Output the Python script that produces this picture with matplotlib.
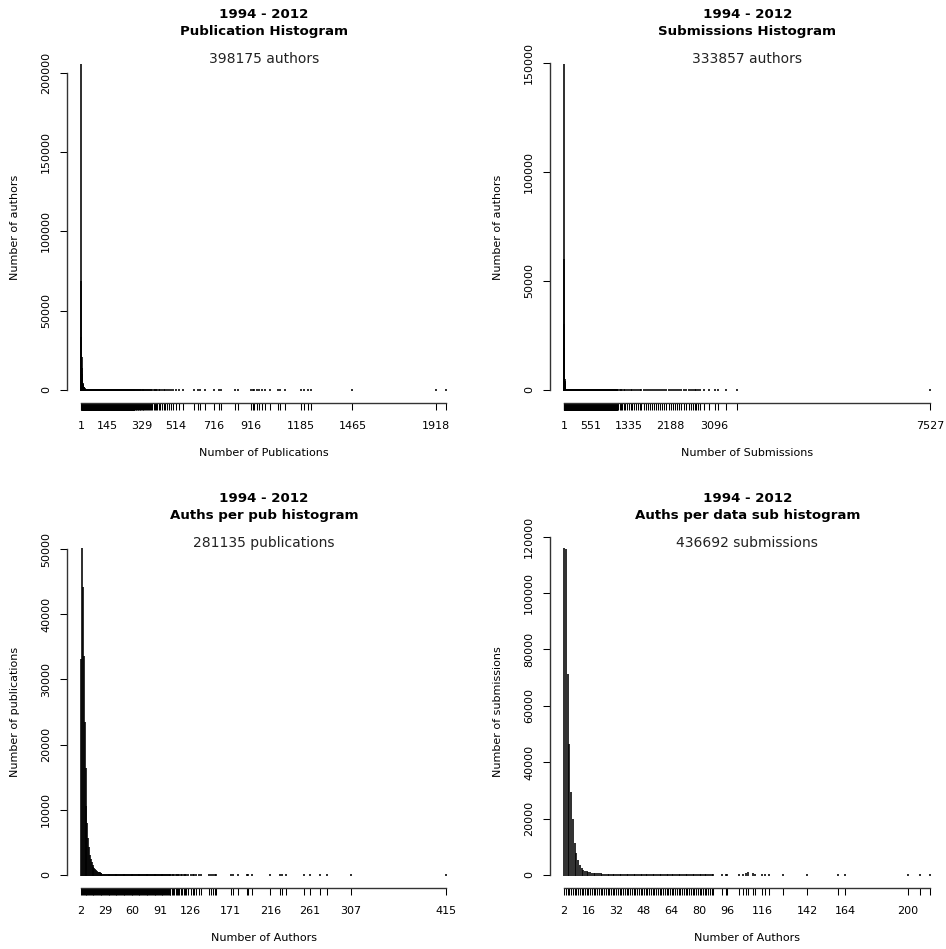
"""
Histogrammes 1994-2012 : publications / soumissions par auteur, auteurs par pub / soumission.
Style proche d'un plot(table(x)) de R.
"""

import matplotlib
matplotlib.use("Agg")
import matplotlib.pyplot as plt
from matplotlib.transforms import offset_copy

# --- Publications par auteur ---
pub_head = [205000, 68000, 33000, 20000, 13500, 9500, 7000, 5300, 4200, 3400,
            2800, 2300, 1950, 1650, 1400, 1200, 1050, 920, 800, 700]          # valeurs 1..20
pub_dense_last = 290
pub_mid = [295, 299, 303, 306, 310, 313, 317, 321, 325, 329, 333, 337, 341, 346,
           350, 355, 361, 366, 372, 379, 385, 392, 398, 406, 413, 421, 429, 437,
           446, 455, 466, 477, 488, 497]
pub_sparse = [514, 528, 553, 611, 631, 640, 670, 716, 746, 755, 832, 847, 916, 926,
              935, 950, 959, 977, 994, 1022, 1066, 1075, 1099, 1185, 1201, 1223,
              1241, 1465, 1918, 1972]
pub_tail_count = 40
pub_labels = [1, 145, 329, 514, 716, 916, 1185, 1465, 1918]

# --- Soumissions par auteur ---
sub_head = [149000, 59500, 30000, 19000, 13000, 9500, 7200, 5600, 4600, 3800,
            3200, 2700, 2300, 2000, 1800, 1600, 1400, 1250, 1100, 1000]       # valeurs 1..20
sub_dense_last = 1094
sub_mid = [1110, 1140, 1172, 1200, 1236, 1260, 1290, 1335, 1370, 1400, 1440, 1475,
           1520, 1560, 1590, 1640, 1690, 1720, 1760, 1800, 1850, 1890, 1930, 1980,
           2020, 2060, 2100, 2150, 2188, 2230, 2270, 2320, 2360, 2400, 2460, 2510,
           2560, 2600, 2640, 2690, 2720, 2760, 2790]
sub_sparse = [2873, 2976, 3096, 3162, 3320, 3561, 7527]
sub_tail_count = 30
sub_labels = [1, 551, 1335, 2188, 3096, 7527]

# --- Auteurs par publication ---
app_head = [33000, 50000, 44000, 33500, 23300, 16300, 10500, 7800, 5600, 4100,
            3000, 2300, 1800, 1400, 1100, 900, 720, 580, 480, 400, 340, 290,
            250, 215]                                                          # valeurs 2..25
app_dense_last = 100
app_mid = [101, 102, 103, 105, 106, 107, 109, 110, 112, 113, 115, 116, 118, 120,
           121, 123, 126, 128, 130, 132, 135, 138]
app_sparse = [147, 149, 151, 153, 155, 171, 174, 179, 190, 191, 195, 216, 227, 229,
              234, 254, 261, 272, 280, 307, 415]
app_tail_count = 60
app_labels = [2, 29, 60, 91, 126, 171, 216, 261, 307, 415]

# --- Auteurs par soumission de données ---
aps_head = [115600, 115300, 71000, 46200, 29300, 19500, 11000, 7500, 5200, 3300,
            2300, 1600, 1200, 950, 800, 650]                                   # valeurs 2..17
aps_body = [420, 360, 320, 290, 260, 240, 220, 210, 200, 190, 180, 170, 165,   # 18..30
            160, 155, 150, 150, 145, 140, 140, 135, 130, 130, 125, 125, 120,   # 31..43
            120, 115, 115, 110, 110, 105, 105, 100, 100, 100, 95, 95, 90,      # 44..56
            90, 90, 85, 85, 85, 80, 80, 80, 75, 75, 75, 70, 70,                # 57..69
            70, 65, 65, 65, 60, 60, 60, 55, 55, 55, 50, 50, 45,                # 70..82
            45, 40, 40, 35, 30, 25]                                            # 83..88
aps_sparse = [93, 95, 96, 103, 105, 107, 108, 111, 112, 116, 118, 120, 128, 142,
              160, 164, 200, 207, 213]
aps_sparse_counts = [30, 20, 45, 60, 150, 450, 600, 300, 200, 100, 75, 40, 5, 3,
                     2, 2, 1, 1, 1]
aps_labels = [2, 16, 32, 48, 64, 80, 96, 116, 142, 164, 200]

FIG_W, FIG_H, DPI = 946, 949, 100
BAR_LW = 1.15  # points


def draw_panel(fig, rect_px, values, counts, labels, yticks,
               title, subtitle, xlabel, ylabel):
    left, top, right, bottom = rect_px
    ax = fig.add_axes([left / FIG_W, 1 - bottom / FIG_H,
                       (right - left) / FIG_W, (bottom - top) / FIG_H])

    xmin, xmax = min(values), max(values)
    xr = xmax - xmin
    ymax = max(counts)
    ax.set_xlim(xmin - 0.04 * xr, xmax + 0.04 * xr)
    ax.set_ylim(-0.04 * ymax, 1.04 * ymax)

    # R trace les barres avec des bouts ronds : même un effectif de 1 laisse un point.
    # On prolonge chaque trait d'une demi-épaisseur de chaque côté.
    half = (BAR_LW * DPI / 72 / 2) * (1.08 * ymax) / (bottom - top)
    ax.vlines(values, -half, [c + half for c in counts], colors="black",
              linewidth=BAR_LW, capstyle="butt")

    for side in ("top", "right"):
        ax.spines[side].set_visible(False)
    ax.spines["left"].set_bounds(0, yticks[-1])
    ax.spines["bottom"].set_bounds(xmin, xmax)
    for side in ("left", "bottom"):
        ax.spines[side].set_linewidth(1.0)
        ax.spines[side].set_color("#333333")
        ax.spines[side].set_zorder(5)

    ax.set_xticks(values, minor=True)
    ax.set_xticks(labels, [str(v) for v in labels])
    ax.set_yticks(yticks, [str(t) for t in yticks])
    ax.tick_params(axis="x", which="both", direction="out", length=5.3, width=0.75,
                   labelsize=8, pad=8)
    ax.tick_params(axis="y", direction="out", length=5, width=0.75,
                   labelsize=8, pad=6, labelrotation=90)
    for lab in ax.get_yticklabels():
        lab.set_va("center")

    def at(dx, dy):
        return offset_copy(ax.transAxes, fig=fig, x=dx, y=dy, units="dots")

    t1, t2 = title.split("\n")
    ax.text(0.5, 1, t1, transform=at(0, 37.7), ha="center", va="center",
            fontsize=9.6, fontweight="bold")
    ax.text(0.5, 1, t2, transform=at(0, 20.3), ha="center", va="center",
            fontsize=9.6, fontweight="bold")
    ax.text(0.5, 1, subtitle, transform=at(0, -7.3), ha="center", va="center",
            fontsize=10, color="#222222")
    ax.text(0.5, 0, xlabel, transform=at(0, -50.3), ha="center", va="center",
            fontsize=8)
    ax.text(0, 0.5, ylabel, transform=at(-51.5, 0), ha="center", va="center",
            fontsize=8, rotation=90)
    return ax


fig = plt.figure(figsize=(FIG_W / DPI, FIG_H / DPI), dpi=DPI)

# 1. publications par auteur
pub_values = list(range(1, pub_dense_last + 1)) + pub_mid + pub_sparse
pub_counts = pub_head + [pub_tail_count] * (len(pub_values) - len(pub_head))
draw_panel(fig, (66.5, 52, 461, 403), pub_values, pub_counts, pub_labels,
           [0, 50000, 100000, 150000, 200000],
           "1994 - 2012\nPublication Histogram", "398175 authors",
           "Number of Publications", "Number of authors")

# 2. soumissions par auteur
sub_values = list(range(1, sub_dense_last + 1)) + sub_mid + sub_sparse
sub_counts = sub_head + [sub_tail_count] * (len(sub_values) - len(sub_head))
draw_panel(fig, (549.5, 52, 945, 403), sub_values, sub_counts, sub_labels,
           [0, 50000, 100000, 150000],
           "1994 - 2012\nSubmissions Histogram", "333857 authors",
           "Number of Submissions", "Number of authors")

# 3. auteurs par publication
app_values = list(range(2, app_dense_last + 1)) + app_mid + app_sparse
app_counts = app_head + [app_tail_count] * (len(app_values) - len(app_head))
draw_panel(fig, (66.5, 536, 461, 888), app_values, app_counts, app_labels,
           [0, 10000, 20000, 30000, 40000, 50000],
           "1994 - 2012\nAuths per pub histogram", "281135 publications",
           "Number of Authors", "Number of publications")

# 4. auteurs par soumission
aps_values = list(range(2, 89)) + aps_sparse
aps_counts = aps_head + aps_body + aps_sparse_counts
draw_panel(fig, (549.5, 536, 945, 888), aps_values, aps_counts, aps_labels,
           [0, 20000, 40000, 60000, 80000, 100000, 120000],
           "1994 - 2012\nAuths per data sub histogram", "436692 submissions",
           "Number of Authors", "Number of submissions")

fig.savefig("out.png", dpi=DPI, facecolor="white")
plt.close(fig)
